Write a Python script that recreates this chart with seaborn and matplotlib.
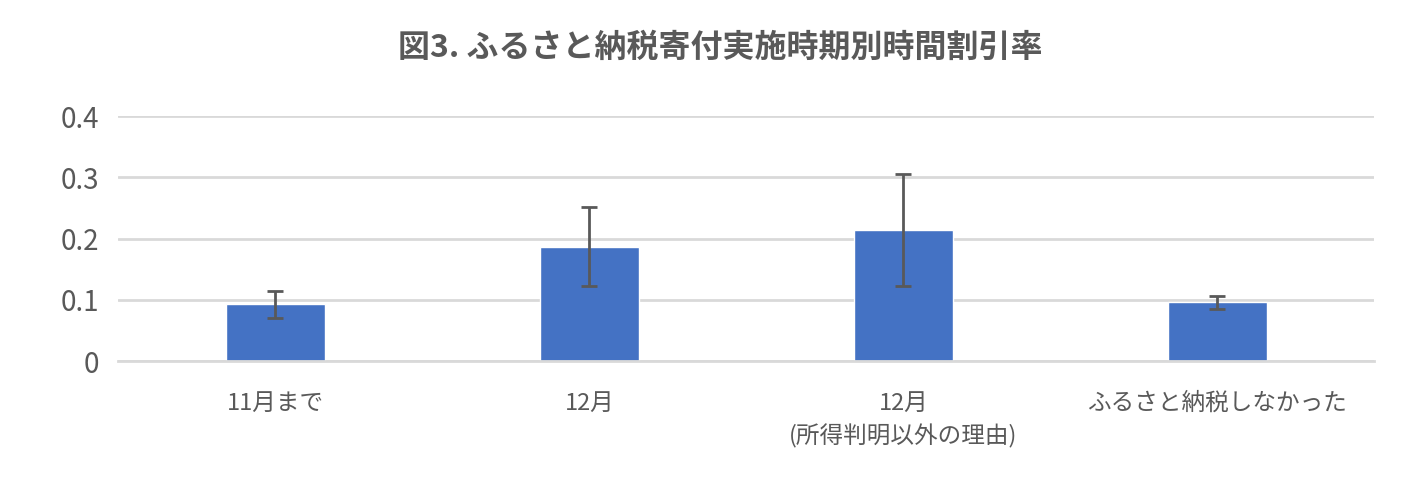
import matplotlib
matplotlib.use("Agg")
import matplotlib.pyplot as plt
import seaborn as sns
import numpy as np
import pandas as pd

sns.set_theme(style="white")
plt.rcParams['font.family'] = ['Noto Sans CJK JP', 'DejaVu Sans']

categories = ["11月まで", "12月", "12月\n(所得判明以外の理由)", "ふるさと納税しなかった"]
values = [0.093, 0.186, 0.214, 0.096]
err_low = [0.070, 0.122, 0.122, 0.085]
err_high = [0.114, 0.251, 0.305, 0.106]
yticks = [0, 0.1, 0.2, 0.3, 0.4]
ytick_labels = ["0", "0.1", "0.2", "0.3", "0.4"]

fig = plt.figure(figsize=(14.27, 4.9), dpi=100)
ax = fig.add_axes([0.083, 0.263, 0.88, 0.5])
df = pd.DataFrame({"cat": categories, "val": values})
sns.barplot(data=df, x="cat", y="val", color="#4472C4", width=0.315, ax=ax, saturation=1)
x = np.arange(len(categories))
v = np.array(values)
ax.errorbar(x, v, yerr=[v - np.array(err_low), np.array(err_high) - v],
            fmt="none", ecolor="#595959", elinewidth=2, capsize=6, capthick=2)
ax.set_xlim(-0.5, len(categories) - 0.5)
ax.set_ylim(0, 0.4)
ax.set_yticks(yticks)
ax.set_yticklabels(ytick_labels, fontsize=20, color="#595959")
ax.yaxis.grid(True, color="#D9D9D9", linewidth=2)
ax.set_axisbelow(True)
for s in ["top", "right", "left"]:
    ax.spines[s].set_visible(False)
ax.spines["bottom"].set_color("#D9D9D9")
ax.spines["bottom"].set_linewidth(2)
ax.set_xlabel("")
ax.set_ylabel("")
ax.tick_params(axis="x", labelsize=17, colors="#595959", pad=22, length=0)
ax.tick_params(axis="y", length=0, pad=14)
for lbl in ax.get_xticklabels():
    lbl.set_verticalalignment("top")
    lbl.set_linespacing(1.5)
fig.suptitle("図3. ふるさと納税寄付実施時期別時間割引率", fontsize=23, fontweight="bold",
             color="#595959", x=0.505, y=0.935)
fig.savefig("out.png", dpi=100)
